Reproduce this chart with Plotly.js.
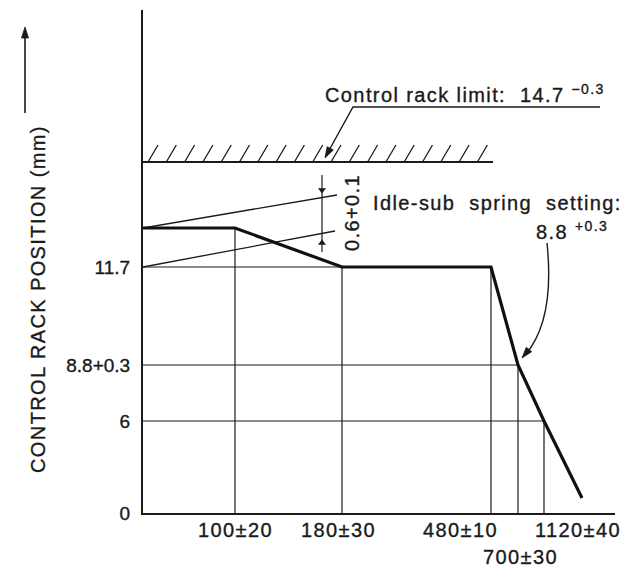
<!DOCTYPE html>
<html>
<head>
<meta charset="utf-8">
<script src="https://cdn.plot.ly/plotly-3.0.1.min.js"></script>
<style>
html,body{margin:0;padding:0;background:#fff;}
#chart{width:622px;height:569px;}
text.annotation-text{letter-spacing:1.4px;}
#chart text{stroke:#1a1a1a;stroke-width:0.35px;}
</style>
</head>
<body>
<div id="chart"></div>
<script>
// ---- Data (schematic diagram: positions along axes are not to scale) ----
const speedLabels = ["100±20", "180±30", "480±10", "700±30", "1120±40"];
const speedPos = [92, 199, 348, 375, 401];          // schematic x-positions of the speed marks
const rackLabels = ["0", "6", "8.8+0.3", "11.7"];
const rackPos = [0, 92, 148, 246];                  // schematic y-positions of the rack marks
const fullLoadPos = 285;                            // start (full-load) rack level
const rackLimitPos = 351;                           // control rack limit 14.7
const curveEnd = [439, 15];                         // end of governor droop line
// governor curve: full-load plateau -> 100 -> 180 -> 480 -> 700 -> 1120 -> end
const curveX = [0, speedPos[0], speedPos[1], speedPos[2], speedPos[3], speedPos[4], curveEnd[0]];
const curveY = [fullLoadPos, fullLoadPos, rackPos[3], rackPos[3], rackPos[2], rackPos[1], curveEnd[1]];
// tolerance (0.6+0.1) lines
const tolLowX = [0, 192], tolLowY = [rackPos[3], 282];
const tolHighX = [0, 194], tolHighY = [fullLoadPos, 318];
const dimX = 179, dimTop = 338, dimBottom = 261, dimArrowTop = 323, dimArrowBottom = 270;

const ink = "#1a1a1a";
const FONT = "Liberation Sans, Arial, Helvetica, sans-serif";

// plot frame (pixels) used to place decorations outside the data area
const L = 143, T = 10, W = 472, H = 503;
const px2paper = (px, py) => [(px - L) / W, (T + H - py) / H];
const data2px = (x, y) => [L + x, T + H - y];

// grid lines from the marks to the curve
const gx = [], gy = [];
const curveAt = [fullLoadPos, rackPos[3], rackPos[3], rackPos[2], rackPos[1]];
speedPos.forEach((p, i) => { gx.push(p, p, null); gy.push(0, curveAt[i], null); });
[[rackPos[1], speedPos[4]], [rackPos[2], speedPos[3]], [rackPos[3], speedPos[2]]].forEach(([y, xe]) => {
  gx.push(0, xe, null); gy.push(y, y, null);
});

// hatching above the rack limit
const hx = [], hy = [];
for (let i = 0; i < 19; i++) {
  const x0 = 5 + i * 18.3;
  hx.push(x0, x0 + 10, null); hy.push(rackLimitPos, rackLimitPos + 17, null);
}

const traces = [
  {x: gx, y: gy, mode: "lines", line: {color: ink, width: 1.2}, hoverinfo: "skip"},
  {x: tolLowX, y: tolLowY, mode: "lines", line: {color: ink, width: 1.3}, hoverinfo: "skip"},
  {x: tolHighX, y: tolHighY, mode: "lines", line: {color: ink, width: 1.3}, hoverinfo: "skip"},
  {x: [dimX, dimX], y: [dimTop, dimBottom], mode: "lines", line: {color: ink, width: 1.2}, hoverinfo: "skip"},
  {x: [dimX, dimX], y: [dimArrowTop, dimArrowBottom], mode: "markers",
   marker: {symbol: ["triangle-down", "triangle-up"], size: 7, color: ink}, hoverinfo: "skip"},
  {x: [0, 350], y: [rackLimitPos, rackLimitPos], mode: "lines", line: {color: ink, width: 2}, hoverinfo: "skip"},
  {x: hx, y: hy, mode: "lines", line: {color: ink, width: 1.3}, hoverinfo: "skip"},
  {x: [457, 210, 184], y: [406, 406, 359], mode: "lines", line: {color: ink, width: 1.4}, hoverinfo: "skip"},
  {x: curveX, y: curveY, mode: "lines", line: {color: "#111", width: 3.2}, hoverinfo: "skip"}
];

// filled arrowhead as a paper-referenced path shape (tip and tail in pixels)
function arrowHead(tip, tail, len, half) {
  const dx = tip[0] - tail[0], dy = tip[1] - tail[1];
  const n = Math.hypot(dx, dy), ux = dx / n, uy = dy / n;
  const bx = tip[0] - len * ux, by = tip[1] - len * uy;
  const pts = [tip, [bx - half * uy, by + half * ux], [bx + half * uy, by - half * ux]].map(p => px2paper(p[0], p[1]));
  return {type: "path", xref: "paper", yref: "paper", fillcolor: ink, line: {color: ink, width: 0.8},
          path: "M " + pts.map(p => p[0] + " " + p[1]).join(" L ") + " Z"};
}

const annotations = [];
// x tick labels
const speedLabelX = [92, 195, 317, 377, 435];
const speedLabelRow = [0, 0, 0, 1, 0];
speedLabels.forEach((t, i) => annotations.push({
  xref: "x", x: speedLabelX[i], xanchor: "center", yref: "paper",
  y: speedLabelRow[i] ? (513 - 557) / 503 : (513 - 530) / 503, yanchor: "middle",
  text: t, showarrow: false, font: {size: 20, color: ink, family: FONT}
}));
// axis title
annotations.push({
  xref: "paper", x: (25 - 143) / 472, yref: "paper", y: (513 - 299) / 503,
  text: "CONTROL RACK POSITION (mm)", textangle: -90, showarrow: false,
  font: {size: 20, color: ink, family: FONT}
});
// texts
annotations.push({
  xref: "x", x: 180, xanchor: "left", yref: "y", y: 513 - 93, yanchor: "middle",
  text: "Control rack limit:\u00a0 14.7 <sup>\u22120.3</sup>", showarrow: false,
  font: {size: 20, color: ink, family: FONT}
});
annotations.push({
  xref: "x", x: 228, xanchor: "left", yref: "y", y: 513 - 203, yanchor: "middle",
  text: "Idle-sub\u00a0 spring\u00a0 setting:", showarrow: false,
  font: {size: 20, color: ink, family: FONT}
});
annotations.push({
  xref: "x", x: 391, xanchor: "left", yref: "y", y: 513 - 230, yanchor: "middle",
  text: "8.8 <sup>+0.3</sup>", showarrow: false,
  font: {size: 20, color: ink, family: FONT}
});
annotations.push({
  xref: "x", x: 209, yref: "y", y: 300, text: "0.6+0.1", textangle: -90, showarrow: false,
  font: {size: 20, color: ink, family: FONT}
});

const titleArrowTail = px2paper(25, 113), titleArrowEnd = px2paper(25, 36);
const shapes = [
  // idle-sub spring leader (curved)
  {type: "path", xref: "x", yref: "y", path: "M 404 270 C 409 222, 403 182, 382 158",
   line: {color: ink, width: 1.4}},
  // arrow next to the axis title
  {type: "line", xref: "paper", yref: "paper", x0: titleArrowTail[0], y0: titleArrowTail[1],
   x1: titleArrowEnd[0], y1: titleArrowEnd[1], line: {color: ink, width: 1.6}},
  arrowHead([25, 27], [25, 113], 11, 3.5),
  arrowHead(data2px(182, 355), data2px(195, 379), 11, 3.5),
  arrowHead(data2px(379, 155), data2px(388, 166), 11, 3.5)
];

const layout = {
  width: 622, height: 569,
  margin: {l: L, r: 622 - L - W, t: T, b: 569 - T - H},
  paper_bgcolor: "#fff", plot_bgcolor: "#fff",
  showlegend: false,
  font: {family: FONT, color: ink},
  xaxis: {range: [0, 472], showline: true, linewidth: 2, linecolor: ink, showgrid: false,
          zeroline: false, showticklabels: false, ticks: "", fixedrange: true},
  yaxis: {range: [0, 503], showline: true, linewidth: 2, linecolor: ink, showgrid: false,
          zeroline: false, ticks: "", fixedrange: true,
          tickmode: "array", tickvals: rackPos, ticktext: rackLabels, ticklabelstandoff: 7,
          tickfont: {size: 19, color: ink, family: FONT}},
  shapes: shapes,
  annotations: annotations
};

Plotly.newPlot("chart", traces, layout, {staticPlot: true, displayModeBar: false});
</script>
</body>
</html>
